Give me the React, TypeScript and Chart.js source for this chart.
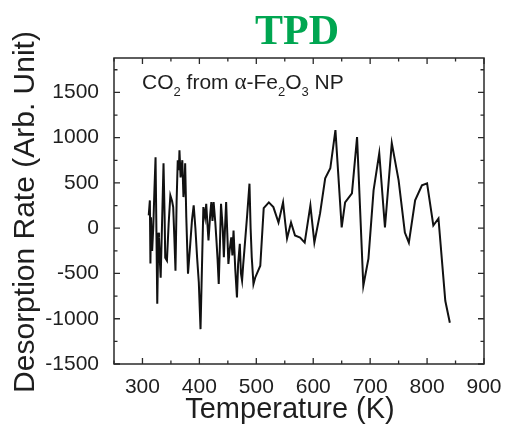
import React, { useEffect, useRef } from 'react';
import { Chart, registerables } from 'chart.js';

Chart.register(...registerables);

// Temperature (K)
const temperatures = [
  311, 313, 314, 315, 317, 319, 321, 323, 325, 326,
  328, 329, 331, 332, 335, 337, 339, 340, 343, 346,
  349, 352, 354, 356, 358, 360, 362, 364, 365, 367,
  370, 372, 374, 375, 377, 380, 384, 387, 390, 393,
  396, 399, 402, 405, 407, 410, 412, 414, 416, 419,
  421, 423, 425, 428, 430, 432, 434, 436, 438, 441,
  443, 445, 447, 449, 451, 453, 456, 458, 460, 463,
  466, 468, 471, 473, 475, 477, 479, 484, 488, 490,
  492, 495, 498, 507, 513, 522, 530, 539, 547, 551,
  554, 561, 568, 577, 585, 595, 602, 612, 621, 630,
  639, 650, 656, 668, 677, 688, 697, 706, 716, 726,
  738, 750, 761, 768, 779, 791, 800, 811, 820, 832,
  840,
];

// Desorption rate (Arb. Unit)
const rates = [
  141, 307, -391, 120, -250, 11, 420, 784, -300, -835,
  -50, -100, -420, -547, 200, 717, 100, -325, -358, 50,
  363, 300, 233, -100, -469, 300, 751, 640, 861, 560,
  751, 344, 500, 717, 120, -502, -170, 90, 252, 0,
  -325, -600, -1115, -300, 233, 120, 270, 60, -136, 150,
  288, 80, 288, 60, -136, -350, -617, -200, 270, 0,
  -321, 0, 288, -50, -395, -250, -100, -300, -26, -450,
  -765, -400, -173, -500, -580, -400, -247, 150, 492, 0,
  -321, -617, -547, -414, 222, 285, 233, 63, 285, 49,
  -114, 63, -81, -103, -159, 252, -159, 163, 551, 662,
  1083, 8, 285, 385, 1006, -635, -336, 418, 828, 8,
  939, 529, -48, -159, 307, 473, 496, 30, 108, -802,
  -1045,
];

const xMajorTicks = [300, 400, 500, 600, 700, 800, 900];
const xMinorTicks = [250, 350, 450, 550, 650, 750, 850];
const yMajorTicks = [-1500, -1000, -500, 0, 500, 1000, 1500];
const yMinorTicks = [-1250, -750, -250, 250, 750, 1250, 1750];

const X_MIN = 250;
const X_MAX = 900;
const Y_MIN = -1500;
const Y_MAX = 1880;

const TITLE = 'TPD';
const X_TITLE = 'Temperature (K)';
const Y_TITLE = 'Desorption Rate (Arb. Unit)';

const SANS = '"Liberation Sans", Arial, sans-serif';
const SERIF = '"Liberation Serif", "Times New Roman", serif';
const INK = '#1e1e1e';

const framePlugin = {
  id: 'frame',
  afterDraw(chart: any) {
    const { ctx, chartArea: a } = chart;
    const xs = chart.scales.x;
    const ys = chart.scales.y;
    ctx.save();

    // frame
    ctx.strokeStyle = '#2a2a2a';
    ctx.lineWidth = 1.5;
    ctx.strokeRect(a.left, a.top, a.right - a.left, a.bottom - a.top);

    // inward ticks on all four sides
    ctx.lineWidth = 1.3;
    ctx.beginPath();
    const xt = (v: number, len: number) => {
      const p = xs.getPixelForValue(v);
      ctx.moveTo(p, a.bottom);
      ctx.lineTo(p, a.bottom - len);
      ctx.moveTo(p, a.top);
      ctx.lineTo(p, a.top + len);
    };
    const yt = (v: number, len: number) => {
      const p = ys.getPixelForValue(v);
      ctx.moveTo(a.left, p);
      ctx.lineTo(a.left + len, p);
      ctx.moveTo(a.right, p);
      ctx.lineTo(a.right - len, p);
    };
    xMajorTicks.forEach((v) => xt(v, 6));
    xMinorTicks.forEach((v) => xt(v, 3.5));
    yMajorTicks.forEach((v) => yt(v, 6));
    yMinorTicks.forEach((v) => yt(v, 3.5));
    ctx.stroke();

    // chart title
    ctx.fillStyle = '#00a651';
    ctx.font = `bold 42px ${SERIF}`;
    ctx.textAlign = 'center';
    ctx.textBaseline = 'alphabetic';
    ctx.fillText(TITLE, 297, 44);

    // x axis title
    ctx.fillStyle = INK;
    ctx.font = `29px ${SANS}`;
    ctx.fillText(X_TITLE, 290, 418);

    // y axis title
    ctx.save();
    ctx.translate(34, 212);
    ctx.rotate(-Math.PI / 2);
    ctx.font = `30px ${SANS}`;
    ctx.fillText(Y_TITLE, 0, 0);
    ctx.restore();

    // in-plot annotation: CO2 from α-Fe2O3 NP
    ctx.textAlign = 'left';
    const main = `21px ${SANS}`;
    const sub = `13px ${SANS}`;
    const greek = `23px ${SERIF}`;
    const pieces: [string, string, number][] = [
      ['CO', main, 0],
      ['2', sub, 7],
      [' from ', main, 0],
      ['\u03B1', greek, 0],
      ['-Fe', main, 0],
      ['2', sub, 7],
      ['O', main, 0],
      ['3', sub, 7],
      [' NP', main, 0],
    ];
    let x = 142;
    const base = 89;
    for (const [t, f, dy] of pieces) {
      ctx.font = f;
      ctx.fillText(t, x, base + dy);
      x += ctx.measureText(t).width;
    }
    ctx.restore();
  },
};

export default function App() {
  const ref = useRef<HTMLCanvasElement | null>(null);

  useEffect(() => {
    if (!ref.current) return;
    const points = temperatures.map((t, i) => ({ x: t, y: rates[i] }));
    const chart = new Chart(ref.current, {
      type: 'line',
      data: {
        datasets: [
          {
            data: points,
            borderColor: '#111111',
            borderWidth: 2,
            pointRadius: 0,
            tension: 0,
            fill: false,
          },
        ],
      },
      options: {
        responsive: false,
        animation: false,
        layout: { padding: { left: 0, top: 58, right: 22, bottom: 0 } },
        plugins: {
          legend: { display: false },
          tooltip: { enabled: false },
          title: { display: false },
        },
        scales: {
          x: {
            type: 'linear',
            min: X_MIN,
            max: X_MAX,
            grid: { display: false },
            border: { display: false },
            afterBuildTicks: (s: any) => {
              s.ticks = xMajorTicks.map((v) => ({ value: v }));
            },
            afterFit: (s: any) => {
              s.height = 63;
            },
            ticks: {
              padding: 3,
              maxRotation: 0,
              autoSkip: false,
              color: INK,
              font: { family: SANS, size: 21 },
              callback: (v: any) => String(v),
            },
          },
          y: {
            type: 'linear',
            min: Y_MIN,
            max: Y_MAX,
            grid: { display: false },
            border: { display: false },
            afterBuildTicks: (s: any) => {
              s.ticks = yMajorTicks.map((v) => ({ value: v }));
            },
            afterFit: (s: any) => {
              s.width = 114;
            },
            ticks: {
              padding: 7,
              autoSkip: false,
              color: INK,
              font: { family: SANS, size: 21 },
              callback: (v: any) => String(v),
            },
          },
        },
      },
      plugins: [framePlugin],
    });
    return () => chart.destroy();
  }, []);

  return (
    <div style={{ position: 'fixed', left: 0, top: 0, width: 506, height: 427, background: '#fff' }}>
      <canvas ref={ref} width={506} height={427} style={{ display: 'block' }} />
    </div>
  );
}
